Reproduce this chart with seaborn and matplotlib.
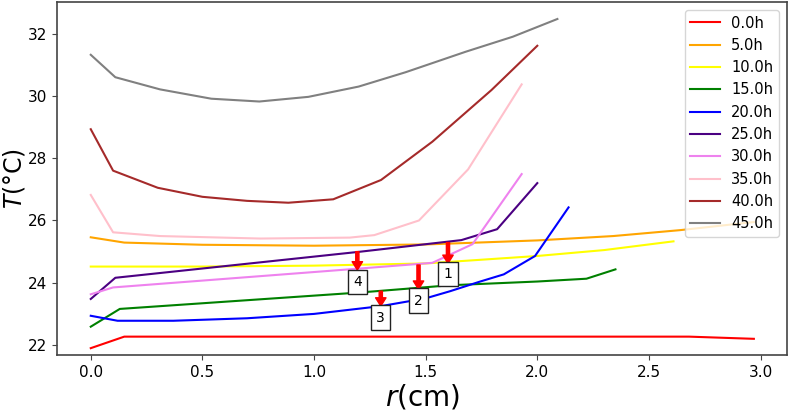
import numpy as np
import pandas as pd
import matplotlib
matplotlib.use("Agg")
import matplotlib.pyplot as plt
import seaborn as sns

# ---- data ----
labels = ["0.0h", "5.0h", "10.0h", "15.0h", "20.0h", "25.0h", "30.0h", "35.0h", "40.0h", "45.0h"]
colors = ["red", "orange", "yellow", "green", "blue", "indigo", "violet", "pink", "brown", "gray"]

r_00 = [0.0, 0.15, 0.5, 1.0, 1.5, 2.0, 2.5, 2.68, 2.97]
T_00 = [21.9, 22.27, 22.27, 22.27, 22.27, 22.27, 22.27, 22.27, 22.2]

r_05 = [0.0, 0.15, 0.5, 1.0, 1.5, 2.0, 2.34, 2.64, 2.97]
T_05 = [25.46, 25.29, 25.22, 25.19, 25.23, 25.36, 25.5, 25.69, 25.95]

r_10 = [0.0, 0.5, 1.0, 1.5, 2.0, 2.3, 2.61]
T_10 = [24.52, 24.52, 24.55, 24.62, 24.86, 25.05, 25.33]

r_15 = [0.0, 0.13, 1.21, 1.61, 2.0, 2.22, 2.35]
T_15 = [22.59, 23.16, 23.69, 23.92, 24.04, 24.13, 24.43]

r_20 = [0.0, 0.12, 0.37, 0.7, 1.0, 1.3, 1.5, 1.61, 1.74, 1.85, 1.99, 2.14]
T_20 = [22.94, 22.78, 22.78, 22.86, 23.0, 23.25, 23.5, 23.73, 24.03, 24.27, 24.86, 26.42]

r_25 = [0.0, 0.11, 1.21, 1.66, 1.82, 2.0]
T_25 = [23.48, 24.16, 25.0, 25.37, 25.72, 27.2]

r_30 = [0.0, 0.1, 1.21, 1.53, 1.71, 1.93]
T_30 = [23.63, 23.85, 24.46, 24.64, 25.24, 27.49]

r_35 = [0.0, 0.1, 0.31, 0.76, 1.16, 1.27, 1.47, 1.69, 1.93]
T_35 = [26.82, 25.62, 25.5, 25.42, 25.45, 25.53, 26.0, 27.64, 30.37]

r_40 = [0.0, 0.1, 0.3, 0.5, 0.7, 0.885, 1.086, 1.3, 1.53, 1.795, 2.0]
T_40 = [28.93, 27.6, 27.05, 26.76, 26.63, 26.57, 26.68, 27.3, 28.53, 30.19, 31.61]

r_45 = [0.0, 0.11, 0.31, 0.54, 0.755, 0.975, 1.2, 1.41, 1.68, 1.89, 2.09]
T_45 = [31.32, 30.6, 30.21, 29.91, 29.82, 29.97, 30.3, 30.76, 31.42, 31.9, 32.47]

# annotations: number, r position, arrow tail T, arrow tip T, box centre T
ann_num = ["1", "2", "3", "4"]
ann_r = [1.60, 1.468, 1.299, 1.194]
ann_tail = [25.29, 24.57, 23.73, 25.0]
ann_tip = [24.62, 23.79, 23.25, 24.41]
ann_box = [24.28, 23.43, 22.88, 24.03]

all_r = [r_00, r_05, r_10, r_15, r_20, r_25, r_30, r_35, r_40, r_45]
all_T = [T_00, T_05, T_10, T_15, T_20, T_25, T_30, T_35, T_40, T_45]

frames = []
for lab, rr, tt in zip(labels, all_r, all_T):
    frames.append(pd.DataFrame({"r": rr, "T": tt, "time": lab}))
df = pd.concat(frames, ignore_index=True)

# ---- figure ----
fig = plt.figure(figsize=(7.9, 4.13), dpi=100)
ax = fig.add_axes([0.0725, 0.1404, 0.9233, 0.8536])

sns.lineplot(data=df, x="r", y="T", hue="time", hue_order=labels,
             palette=dict(zip(labels, colors)), estimator=None, sort=False,
             linewidth=1.5, ax=ax)

for num, xr, t0, t1, tb in zip(ann_num, ann_r, ann_tail, ann_tip, ann_box):
    ax.annotate("", xy=(xr, t1), xytext=(xr, t0),
                arrowprops=dict(facecolor="red", edgecolor="red",
                                width=2.3, headwidth=7.5, headlength=6, shrink=0))
    ax.text(xr, tb, num, ha="center", va="center", fontsize=10,
            bbox=dict(boxstyle="square,pad=0.38", facecolor="white",
                      edgecolor="#222222", linewidth=1.0))

ax.set_xlim(-0.15, 3.117)
ax.set_ylim(21.68, 33.0)
ax.set_xticks([0.0, 0.5, 1.0, 1.5, 2.0, 2.5, 3.0])
ax.set_yticks([22, 24, 26, 28, 30, 32])
ax.tick_params(labelsize=11, color="#444444")
for s in ax.spines.values():
    s.set_color("#444444")
    s.set_linewidth(1.2)

ax.set_xlabel("$r$(cm)", fontsize=20, labelpad=2)
ax.set_ylabel("$T$(°C)", fontsize=17, va="center")
ax.yaxis.set_label_coords(-0.0588, 0.5)

leg = ax.legend(loc="upper right", fontsize=10.5, title=None)

fig.savefig("out.png", dpi=100)
